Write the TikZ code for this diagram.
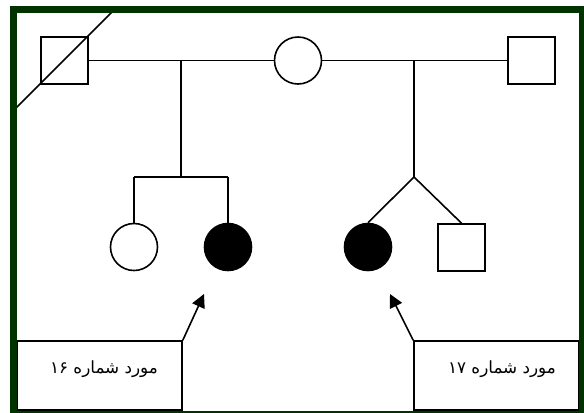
\documentclass[tikz,border=0pt]{standalone}
\usepackage{fontspec}
\newfontfamily\arabicfont[Script=Arabic]{DejaVu Sans}
\TeXXeTstate=1
\usetikzlibrary{arrows.meta}
\definecolor{frame}{RGB}{0,51,0}
\begin{document}
\begin{tikzpicture}[x=0.75pt,y=-0.75pt,
  line width=1.2pt,
  male/.style={draw=black,fill=white,rectangle,minimum size=35.25pt,inner sep=0pt},
  female/.style={draw=black,fill=white,circle,minimum size=35.25pt,inner sep=0pt},
  affected/.style={fill=black},
  labelbox/.style={draw=black,fill=white,rectangle,minimum width=123.75pt,minimum height=51.75pt,inner sep=0pt},
  labeltext/.style={font=\arabicfont\fontsize{12.6}{15}\selectfont,inner sep=0pt},
  pointer/.style={-{Triangle[length=10pt,width=10pt]}}]
\useasboundingbox (0,0) rectangle (584,412);
\fill[white] (0,0) rectangle (584,412);
% deceased grandfather diagonal
\coordinate (dA) at (13,111);
\coordinate (dB) at (115,9);
% persons
\node[male] (gf) at (64.5,60.5) {};
\node[female] (gm) at (298,60.5) {};
\node[male] (sf) at (531.5,60.5) {};
\node[female] (c1) at (134,247) {};
\node[female,affected] (c2) at (228,247) {};
\node[female,affected] (c3) at (368,247) {};
\node[male] (c4) at (461.5,247.5) {};
% connectors
\coordinate (m1) at (181,60.5);
\coordinate (s1) at (181,177);
\coordinate (s1l) at (134,177);
\coordinate (s1r) at (228,177);
\coordinate (m2) at (414,60.5);
\coordinate (s2) at (414,177);
\draw (gf.east) -- (gm.west);
\draw (gm.east) -- (sf.west);
\draw (m1) -- (s1);
\draw (s1l) -- (s1r);
\draw (s1l) -- (c1.north);
\draw (s1r) -- (c2.north);
\draw (m2) -- (s2);
\draw (s2) -- (c3.north);
\draw (s2) -- (c4.north);
\draw (dA) -- (dB);
% label boxes
\node[labelbox] (b1) at (99.5,375.5) {};
\node[labelbox] (b2) at (496.5,375.5) {};
\node[labeltext] (t1) at (104,369) {\beginR مورد شماره ۱۶\endR};
\node[labeltext] (t2) at (502,369) {\beginR مورد شماره ۱۷\endR};
\coordinate (a1) at (204,294);
\coordinate (a2) at (390,294);
\draw[pointer] (b1.north east) -- (a1);
\draw[pointer] (b2.north west) -- (a2);
% frame
\draw[frame,line width=5.25pt] (13.5,9.5) rectangle (582.5,414.5);
\end{tikzpicture}
\end{document}
